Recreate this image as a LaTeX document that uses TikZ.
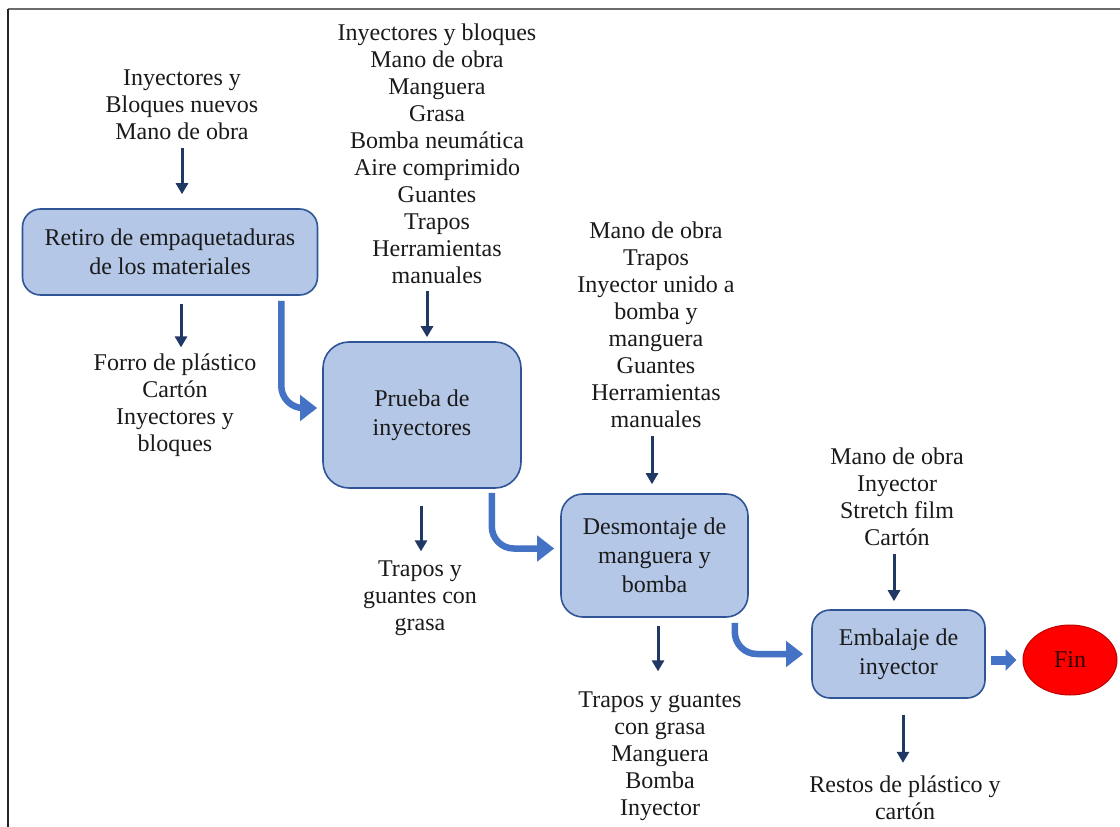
\documentclass[tikz,border=0pt]{standalone}
\usepackage{fontspec}
\setmainfont{Liberation Serif}
\usetikzlibrary{arrows.meta,shapes.geometric}
\definecolor{boxfill}{HTML}{B4C7E7}
\definecolor{boxline}{HTML}{2F5597}
\definecolor{flowblue}{HTML}{4472C4}
\definecolor{navy}{HTML}{1F3864}
\definecolor{inkgray}{HTML}{1A1A1A}
\definecolor{finred}{HTML}{FF0000}
\definecolor{finline}{HTML}{C00000}
\begin{document}
\begin{tikzpicture}[x=1pt,y=-1pt,
  every node/.style={text=inkgray},
  txt/.style={align=center, inner sep=0pt, font=\fontsize{24}{27}\selectfont},
  stage/.style={draw=boxline, fill=boxfill, line width=1.6pt, rounded corners=#1,
    align=center, inner sep=0pt, font=\fontsize{24}{29}\selectfont},
  inarr/.style={navy, line width=3pt, -{Triangle[length=11pt,width=12pt]}},
  flow/.style={flowblue, line width=6.5pt, rounded corners=22pt,
    -{Triangle[length=17pt,width=25pt]}},
  endflow/.style={flowblue, line width=9pt, -{Triangle[length=11pt,width=21pt]}}]
\useasboundingbox (0,0) rectangle (1120,827);
\fill[white] (0,0) rectangle (1120,827);
% page frame
\draw[gray!85!black, line width=2pt] (8,9) -- (1120,9);
\draw[black!85, line width=2pt] (8,9) -- (8,827);

% process stages
\node[stage=18pt, minimum width=295pt, minimum height=86pt] (b1) at (170,252)
  {Retiro de empaquetaduras\\de los materiales};
\node[stage=26pt, minimum width=198pt, minimum height=146pt] (b2) at (422,415)
  {Prueba de\\inyectores};
\node[stage=22pt, minimum width=187pt, minimum height=123pt] (b3) at (654.5,555.5)
  {Desmontaje de\\manguera y\\bomba};
\node[stage=18pt, minimum width=173pt, minimum height=88pt] (b4) at (898.5,654)
  {Embalaje de\\inyector};
\node[ellipse, draw=finline, fill=finred, line width=1pt, minimum width=94pt,
  minimum height=70pt, inner sep=0pt, font=\fontsize{24}{27}\selectfont,
  text=black!80!red] (fin) at (1070,660) {Fin};

% inputs and outputs
\node[txt] (in1) at (182,105) {Inyectores y\\Bloques nuevos\\Mano de obra};
\node[txt] (out1) at (175,405) {Forro de plástico\\Cartón\\Inyectores y\\bloques};
\node[txt] (in2) at (437,154) {Inyectores y bloques\\Mano de obra\\Manguera\\Grasa\\Bomba neumática\\Aire comprimido\\Guantes\\Trapos\\Herramientas\\manuales};
\node[txt] (out2) at (420,598) {Trapos y\\guantes con\\grasa};
\node[txt] (in3) at (656,325) {Mano de obra\\Trapos\\Inyector unido a\\bomba y\\manguera\\Guantes\\Herramientas\\manuales};
\node[txt] (out3) at (660,756) {Trapos y guantes\\con grasa\\Manguera\\Bomba\\Inyector};
\node[txt] (in4) at (897,497) {Mano de obra\\Inyector\\Stretch film\\Cartón};
\node[txt] (out4) at (905,798) {Restos de plástico y\\cartón};

% material arrows
\draw[inarr, shorten <=8pt, shorten >=14pt] (in1.south) -- (in1.south |- b1.north);
\draw[inarr, shorten <=8pt, shorten >=6pt] ([xshift=6pt]out1.north |- b1.south) -- ([xshift=6pt]out1.north);
\draw[inarr, shorten <=7pt, shorten >=4pt] ([xshift=-10pt]in2.south) -- ([xshift=-10pt]in2.south |- b2.north);
\draw[inarr, shorten <=17pt, shorten >=9pt] ([xshift=1pt]out2.north |- b2.south) -- ([xshift=1pt]out2.north);
\draw[inarr, shorten <=8pt, shorten >=9pt] ([xshift=-4pt]in3.south) -- ([xshift=-4pt]in3.south |- b3.north);
\draw[inarr, shorten <=8pt, shorten >=20pt] ([xshift=-2pt]out3.north |- b3.south) -- ([xshift=-2pt]out3.north);
\draw[inarr, shorten <=8pt, shorten >=8pt] ([xshift=-3pt]in4.south) -- ([xshift=-3pt]in4.south |- b4.north);
\draw[inarr, shorten <=16pt, shorten >=13pt] ([xshift=-2pt]out4.north |- b4.south) -- ([xshift=-2pt]out4.north);

% process flow
\draw[flow] ([xshift=-37pt,yshift=-5pt]b1.south east) |- ([xshift=-5pt,yshift=7pt]b2.west);
\draw[flow] ([xshift=-30pt,yshift=-4pt]b2.south east) |- ([xshift=-6pt,yshift=7pt]b3.west);
\draw[flow] ([xshift=-14pt,yshift=-5pt]b3.south east) |- ([xshift=-8pt]b4.west);
\draw[endflow] ([xshift=5pt]b4.east |- fin.west) -- ([xshift=-6pt]fin.west);
\end{tikzpicture}
\end{document}
